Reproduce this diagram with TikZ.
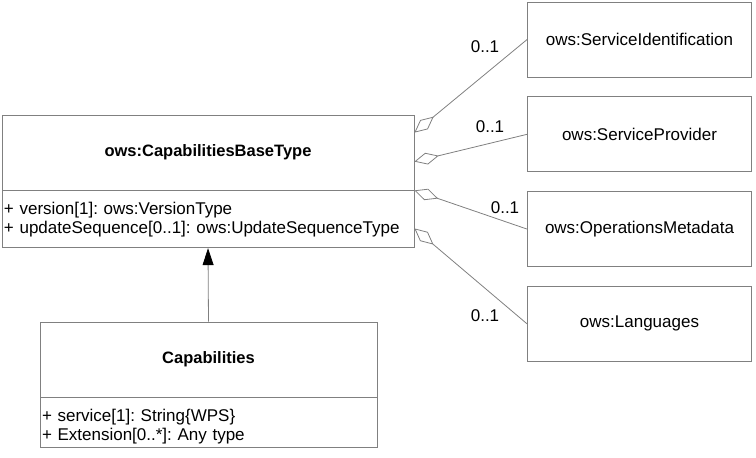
\documentclass[tikz,border=0pt]{standalone}
\usepackage{fontspec}
\setmainfont{Liberation Sans}
\usepackage{tikz}
\usetikzlibrary{calc, positioning, arrows.meta}
\usepackage{xcolor}
\definecolor{umlgray}{RGB}{128,128,128}
\frenchspacing

\begin{document}
\begin{tikzpicture}[x=1pt, y=-1pt, font=\fontsize{17pt}{19pt}\selectfont,
    namebox/.style={draw=umlgray, line width=0.8pt, minimum height=75pt, font=\fontsize{16.5pt}{19pt}\selectfont\bfseries},
    attrbox/.style={draw=umlgray, line width=0.8pt, align=left, inner xsep=2pt, inner ysep=0pt, text height=24pt},
    typebox/.style={draw=umlgray, line width=0.8pt, minimum width=224pt, minimum height=75pt},
    mult/.style={inner sep=0pt},
    agg/.style={umlgray, line width=0.8pt, -{Diamond[open, length=25pt, width=12pt]}},
    inherit/.style={umlgray, line width=0.8pt, -{Triangle[length=17pt, width=11pt, fill=black, color=black]}}]

    % Page size of the reference
    \useasboundingbox (0,0) rectangle (756,458);

    % Base type on the left
    \node[namebox, minimum width=412pt] (base) at (208,152.5) {ows:CapabilitiesBaseType};
    \node[attrbox, text width=408pt, text depth=33pt, below=0pt of base] (baseattr)
        {+ version[1]: ows:VersionType\\+ updateSequence[0..1]: ows:UpdateSequenceType};

    % Capabilities below it
    \node[namebox, minimum width=337pt] (cap) at (208.5,359.5) {Capabilities};
    \node[attrbox, text width=333pt, text depth=26pt, below=0pt of cap] (capattr)
        {+ service[1]: String\{WPS\}\\+ Extension[0..*]: Any type};

    % Types on the right
    \node[typebox] (sid) at (639.5,39.5) {ows:ServiceIdentification};
    \node[typebox, below=19pt of sid] (sp) {ows:ServiceProvider};
    \node[typebox, below=19pt of sp] (om) {ows:OperationsMetadata};
    \node[typebox, below=19pt of om] (lang) {ows:Languages};

    % Ends of the aggregations on the base type
    \coordinate (a1) at ($(base.north east)+(0,18)$);
    \coordinate (a2) at ($(base.north east)+(0,47)$);
    \coordinate (a3) at (base.south east);
    \coordinate (a4) at ($(baseattr.north east)+(0,38)$);

    % Aggregations
    \draw[agg] (sid.west) -- (a1);
    \draw[agg] (sp.west) -- (a2);
    \draw[agg] (om.west) -- (a3);
    \draw[agg] (lang.west) -- (a4);

    % Multiplicities
    \node[mult] (m1) at (485,47) {0..1};
    \node[mult] (m2) at (490,127) {0..1};
    \node[mult] (m3) at (505,208) {0..1};
    \node[mult] (m4) at (485,316) {0..1};

    % Generalization
    \draw[inherit] (cap.north) -- (baseattr.south);

\end{tikzpicture}
\end{document}
